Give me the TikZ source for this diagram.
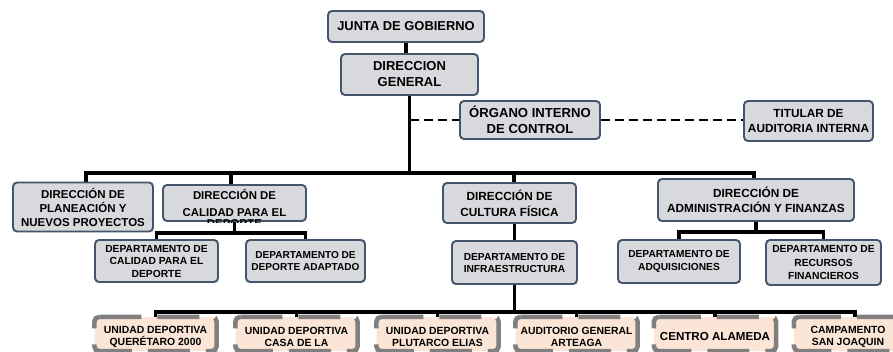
\documentclass[tikz,border=0pt]{standalone}
\usepackage{fontspec}
\setmainfont{Liberation Sans}
\pgfdeclarelayer{bg}
\pgfsetlayers{bg,main}
\definecolor{bord}{RGB}{68,84,106}
\definecolor{gfill}{RGB}{216,217,221}
\definecolor{peach}{RGB}{251,229,214}
\definecolor{ugray}{RGB}{128,128,128}
\newcommand\fsz[2]{\fontsize{#1pt}{#2pt}\selectfont\bfseries}
\tikzset{
  gbox/.style={draw=bord, fill=gfill, line width=1.9pt, rounded corners=4pt, inner sep=0pt, align=center},
  ubox/.style={fill=peach, draw=none, inner sep=0pt, rounded corners=5pt, minimum width=122pt, minimum height=34pt},
  uborder/.style={draw=ugray, line width=4.5pt, rounded corners=5pt, dash pattern=on 42pt off 16pt},
  utext/.style={align=center, inner sep=0pt, font=\fsz{10.4}{12}},
  conn/.style={draw=black, line width=3.5pt},
  dconn/.style={draw=black, line width=2.8pt, dash pattern=on 9pt off 5pt},
}
\begin{document}
\begin{tikzpicture}[x=1pt,y=-1pt]
\useasboundingbox (0,0) rectangle (893,352);
\clip (0,0) rectangle (893,352);

% top
\node[gbox, minimum width=156pt, minimum height=31pt, font=\fsz{12.9}{15}] (junta) at (406,26.5) {JUNTA DE GOBIERNO};
\node[gbox, minimum width=137pt, minimum height=41pt, font=\fsz{13}{16}] (dg) at (409.5,74.5) {DIRECCION\\GENERAL};
\node[gbox, minimum width=140pt, minimum height=38pt, font=\fsz{13.1}{16.5}] (organo) at (530,120) {ÓRGANO INTERNO\\DE CONTROL};
\node[gbox, minimum width=129pt, minimum height=40pt, font=\fsz{11.8}{15}] (titular) at (808.5,121) {TITULAR DE\\AUDITORIA INTERNA};

% direcciones
\node[gbox, minimum width=140pt, minimum height=49pt, font=\fsz{11.5}{14}] (plan) at (83,207) {DIRECCIÓN DE\\PLANEACIÓN Y\\NUEVOS PROYECTOS};
\node[gbox, minimum width=143pt, minimum height=36pt, font=\fsz{11.4}{17}] (calidad) at (234.5,203) {DIRECCIÓN DE\\CALIDAD PARA EL};
\begin{scope}
  \clip (160,219) rectangle (310,223);
  \node[inner sep=0pt, anchor=base, font=\fsz{11.4}{17}] (calidadcut) at (234.5,227.5) {DEPORTE};
\end{scope}
\node[gbox, minimum width=133pt, minimum height=40pt, font=\fsz{11.8}{16}] (cultura) at (509.5,203) {DIRECCIÓN DE\\CULTURA FÍSICA};
\node[gbox, minimum width=196pt, minimum height=42pt, font=\fsz{11.8}{15}] (admin) at (756,200) {DIRECCIÓN DE\\ADMINISTRACIÓN Y FINANZAS};

% departamentos
\node[gbox, minimum width=123pt, minimum height=42pt, font=\fsz{10.3}{12.5}] (dcal) at (156.5,261) {DEPARTAMENTO DE\\CALIDAD PARA EL\\DEPORTE};
\node[gbox, minimum width=119pt, minimum height=42pt, font=\fsz{10.1}{12}] (dadapt) at (305.5,261) {DEPARTAMENTO DE\\DEPORTE ADAPTADO};
\node[gbox, minimum width=125pt, minimum height=43pt, font=\fsz{10.2}{12}] (infra) at (514.5,262.5) {DEPARTAMENTO DE\\INFRAESTRUCTURA};
\node[gbox, minimum width=122pt, minimum height=43pt, font=\fsz{10.2}{13}] (adq) at (679,261.5) {DEPARTAMENTO DE\\ADQUISICIONES};
\node[gbox, minimum width=115pt, minimum height=45pt, font=\fsz{10.3}{13.5}] (recur) at (823.5,262.5) {DEPARTAMENTO DE\\RECURSOS\\FINANCIEROS};

% unidades
\node[ubox] (u1) at (155.5,334) {};
\node[ubox] (u2) at (296.5,334) {};
\node[ubox] (u3) at (437.5,334) {};
\node[ubox] (u4) at (576.5,334) {};
\node[ubox] (u5) at (715,334) {};
\node[ubox] (u6) at (855,334) {};
\foreach \u in {u1,u2,u3,u4,u5,u6}{
  \draw[uborder] (\u.north west) -- (\u.north east) -- (\u.south east) -- (\u.south west) -- cycle;
}
\node[utext] (u1t) at (155.5,337) {UNIDAD DEPORTIVA\\QUERÉTARO 2000};
\node[utext] (u2t) at (296.5,337) {UNIDAD DEPORTIVA\\CASA DE LA};
\node[utext] (u3t) at (437.5,337) {UNIDAD DEPORTIVA\\PLUTARCO ELIAS};
\node[utext] (u4t) at (576.5,337) {AUDITORIO GENERAL\\ARTEAGA};
\node[utext, font=\fsz{11.6}{13}] (u5t) at (715,337) {CENTRO ALAMEDA};
\node[utext] (u6t) at (848,337) {CAMPAMENTO\\SAN JOAQUIN};

\begin{pgfonlayer}{bg}
  \fill[white] (0,0) rectangle (893,352);
  \coordinate (bar1L) at (86,173);
  \coordinate (bar1R) at (754,173);
  \coordinate (cb) at (234.5,233);
  \coordinate (ab) at (756,232);
  \coordinate (bb) at (514.5,312);
  \draw[conn] (junta.south) -- (junta.south |- dg.north);
  \draw[conn] (dg.south) -- (dg.south |- bar1L);
  \draw[dconn] (dg.south |- organo.west) -- (organo.west);
  \draw[dconn] (organo.east) -- (organo.east -| titular.west);
  \draw[conn] (bar1L |- plan.north) -- (bar1L) -- (bar1R) -- (bar1R |- admin.north);
  \draw[conn] ([xshift=-3.5pt]calidad.north |- bar1L) -- ([xshift=-3.5pt]calidad.north);
  \draw[conn] ([xshift=4.5pt]cultura.north |- bar1L) -- ([xshift=4.5pt]cultura.north);
  \draw[conn] (calidad.south) -- (cb);
  \draw[conn] (dcal.north) -- (dcal.north |- cb) -- (dadapt.north |- cb) -- (dadapt.north);
  \draw[conn] (infra.north |- cultura.south) -- (infra.north);
  \draw[conn] (admin.south) -- (ab);
  \draw[conn] (adq.north) -- (adq.north |- ab) -- (recur.north |- ab) -- (recur.north);
  \draw[conn] (infra.south) -- (bb);
  \draw[conn] (u1.north) -- (u1.north |- bb) -- (u6.north |- bb) -- (u6.north);
  \foreach \u in {u2,u3,u4,u5}{
    \draw[conn] (\u.north |- bb) -- (\u.north);
  }
\end{pgfonlayer}
\end{tikzpicture}
\end{document}
